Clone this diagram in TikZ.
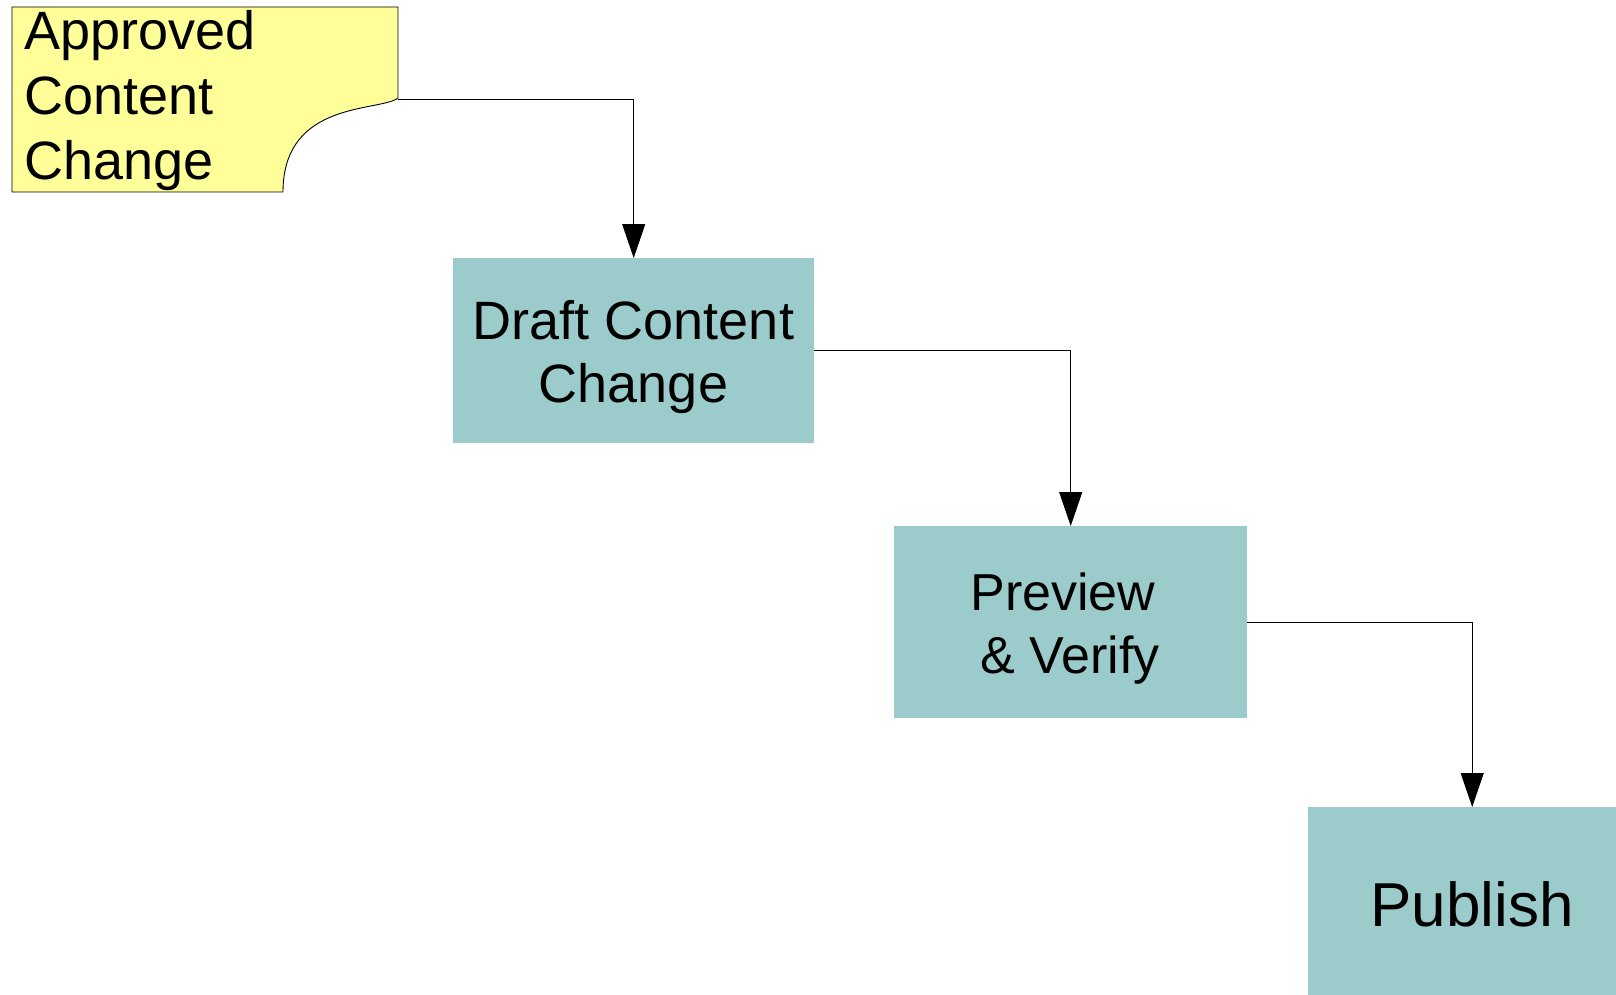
\documentclass[tikz,border=0pt]{standalone}
\usepackage{fontspec}
\setmainfont{Liberation Sans}
\usetikzlibrary{arrows.meta}
\definecolor{stepfill}{RGB}{155,203,203}
\definecolor{notefill}{RGB}{255,255,153}
\begin{document}
\begin{tikzpicture}[x=1pt,y=-1pt,
  stepbox/.style={fill=stepfill, draw=none, inner sep=0pt, anchor=north west},
  lbl/.style={inner sep=0pt, anchor=base, font=\fontsize{54}{63}\selectfont},
  notelbl/.style={inner sep=0pt, anchor=base west, font=\fontsize{54}{62}\selectfont},
  flow/.style={draw=black, line width=0.9pt, -{Triangle[length=34pt,width=23pt]}}]
\useasboundingbox (0,0) rectangle (1616,995);
\clip (0,0) rectangle (1616,995);

% document note with curled corner
\draw[fill=notefill, line width=0.9pt]
  (12,7) -- (398,7) -- (398,98)
  .. controls (380,112) and (283,100) .. (283,192)
  -- (12,192) -- cycle;
\coordinate (noteout) at (398,99);
\node[notelbl] (noteA) at (24.5,50) {Approved};
\node[notelbl] (noteB) at (24.5,115) {Content};
\node[notelbl] (noteC) at (24.5,179) {Change};

% process steps
\node[stepbox, minimum width=361pt, minimum height=185pt] (draft) at (453,258) {};
\node[stepbox, minimum width=353pt, minimum height=192pt] (preview) at (894,526) {};
\node[stepbox, minimum width=328pt, minimum height=200pt] (publish) at (1308,807) {};

\node[lbl] (draftA) at (633.5,339) {Draft Content};
\node[lbl] (draftB) at (633.5,402) {Change};
\node[lbl, font=\fontsize{52}{60}\selectfont] (pvA) at (1063,610) {Preview};
\node[lbl, font=\fontsize{52}{60}\selectfont] (pvB) at (1070,673) {\& Verify};
\node[lbl, font=\fontsize{62}{70}\selectfont] (pubA) at (1472,926) {Publish};

% connectors
\draw[flow] (noteout) -| (draft.north);
\draw[flow] (draft.east) -| (preview.north);
\draw[flow] (preview.east) -| (publish.north);
\end{tikzpicture}
\end{document}
